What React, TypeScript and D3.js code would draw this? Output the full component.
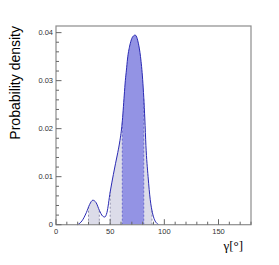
import { useEffect, useRef } from "react";
import * as d3 from "d3";

// posterior density of gamma (degrees)
const gammaDeg = [20, 24, 28, 31, 34, 37, 40, 43, 45, 47, 50, 53, 55, 57, 59, 61, 63, 64, 65, 66, 68, 70, 72, 73, 74, 76, 78, 80, 82, 83, 85, 87, 89, 91, 93, 95];
const density = [0, 0.0008, 0.0025, 0.0042, 0.0051, 0.0046, 0.003, 0.0018, 0.0016, 0.0025, 0.0068, 0.0105, 0.0128, 0.015, 0.0175, 0.021, 0.027, 0.03, 0.0322, 0.0345, 0.0372, 0.0388, 0.0394, 0.0395, 0.0393, 0.0378, 0.035, 0.0302, 0.022, 0.0165, 0.01, 0.0052, 0.0025, 0.001, 0.0003, 0];

// credible intervals
const wideIntervals = [[30, 40], [50, 88.6]];
const narrowInterval = [61.2, 81];

const xTicks = [0, 50, 100, 150];
const yTicks = [0, 0.01, 0.02, 0.03, 0.04];

export default function App() {
  const ref = useRef<SVGSVGElement>(null);

  useEffect(() => {
    const svg = d3.select(ref.current);
    svg.selectAll("*").remove();

    const left = 56, right = 251, top = 26, bottom = 224.7;
    const x = d3.scaleLinear().domain([0, 180]).range([left, right]);
    const y = d3.scaleLinear().domain([0, 0.04138]).range([bottom, top]);

    const pts = gammaDeg.map((g, i) => [g, density[i]] as [number, number]);
    const area = d3.area<[number, number]>()
      .x(d => x(d[0])).y0(y(0)).y1(d => y(d[1]))
      .curve(d3.curveMonotoneX);
    const line = d3.line<[number, number]>()
      .x(d => x(d[0])).y(d => y(d[1]))
      .curve(d3.curveMonotoneX);

    const defs = svg.append("defs");
    const clips = [...wideIntervals.map(iv => ({ iv, fill: "#dcdce9" })), { iv: narrowInterval, fill: "#9393e4" }];
    clips.forEach((c, i) => {
      defs.append("clipPath").attr("id", "clip" + i)
        .append("rect")
        .attr("x", x(c.iv[0])).attr("width", x(c.iv[1]) - x(c.iv[0]))
        .attr("y", top).attr("height", bottom - top);
      svg.append("path").datum(pts)
        .attr("d", area)
        .attr("fill", c.fill)
        .attr("clip-path", `url(#clip${i})`);
    });

    // interpolate curve height for dashed edges
    const interp = (g: number) => {
      for (let i = 1; i < gammaDeg.length; i++) {
        if (g <= gammaDeg[i]) {
          const t = (g - gammaDeg[i - 1]) / (gammaDeg[i] - gammaDeg[i - 1]);
          return density[i - 1] + t * (density[i] - density[i - 1]);
        }
      }
      return 0;
    };
    const edges = [
      ...wideIntervals.flat().map(g => ({ g, c: "#7a7a9a" })),
      ...narrowInterval.map(g => ({ g, c: "#5a5ac8" })),
    ];
    edges.forEach(e => {
      svg.append("line")
        .attr("x1", x(e.g)).attr("x2", x(e.g))
        .attr("y1", y(0)).attr("y2", y(interp(e.g)))
        .attr("stroke", e.c).attr("stroke-width", 0.8)
        .attr("stroke-dasharray", "2,2");
    });

    svg.append("path").datum(pts)
      .attr("d", line)
      .attr("fill", "none")
      .attr("stroke", "#2a2ab4")
      .attr("stroke-width", 1);

    // frame
    svg.append("rect")
      .attr("x", left).attr("y", top)
      .attr("width", right - left).attr("height", bottom - top)
      .attr("fill", "none").attr("stroke", "#8c8c8c").attr("stroke-width", 1.2);

    // x axis ticks (inward)
    const xAxis = svg.append("g").attr("stroke", "#666");
    d3.range(0, 181, 10).forEach(v => {
      const major = v % 50 === 0;
      xAxis.append("line")
        .attr("x1", x(v)).attr("x2", x(v))
        .attr("y1", bottom).attr("y2", bottom - (major ? 5.5 : 3))
        .attr("stroke-width", 1);
    });
    svg.append("g").selectAll("text").data(xTicks).join("text")
      .attr("x", d => x(d)).attr("y", 234)
      .attr("text-anchor", "middle")
      .attr("font-family", "Liberation Sans, Arial, sans-serif")
      .attr("font-size", 7.5).attr("fill", "#333")
      .text(d => String(d));

    // y axis ticks (inward)
    const yAxis = svg.append("g").attr("stroke", "#666");
    d3.range(0, 0.0411, 0.002).forEach((v, i) => {
      const major = i % 5 === 0;
      yAxis.append("line")
        .attr("x1", left).attr("x2", left + (major ? 5.5 : 3))
        .attr("y1", y(v)).attr("y2", y(v))
        .attr("stroke-width", 1);
    });
    svg.append("g").selectAll("text").data(yTicks).join("text")
      .attr("x", 53).attr("y", d => y(d) + 2.6)
      .attr("text-anchor", "end")
      .attr("font-family", "Liberation Sans, Arial, sans-serif")
      .attr("font-size", 7.5).attr("fill", "#333")
      .text(d => d === 0 ? "0" : d3.format(".2f")(d));

    svg.append("text")
      .attr("transform", `translate(20,26) rotate(-90)`)
      .attr("text-anchor", "end")
      .attr("font-family", "Liberation Sans, Arial, sans-serif")
      .attr("font-size", 14)
      .text("Probability density");

    svg.append("text")
      .attr("x", 243).attr("y", 250)
      .attr("text-anchor", "end")
      .attr("font-family", "Liberation Serif, Times New Roman, serif")
      .attr("font-size", 13)
      .text("γ[°]");
  }, []);

  return <svg ref={ref} width={279} height={265} style={{ position: "absolute", left: 0, top: 0, background: "#fff" }}></svg>;
}
